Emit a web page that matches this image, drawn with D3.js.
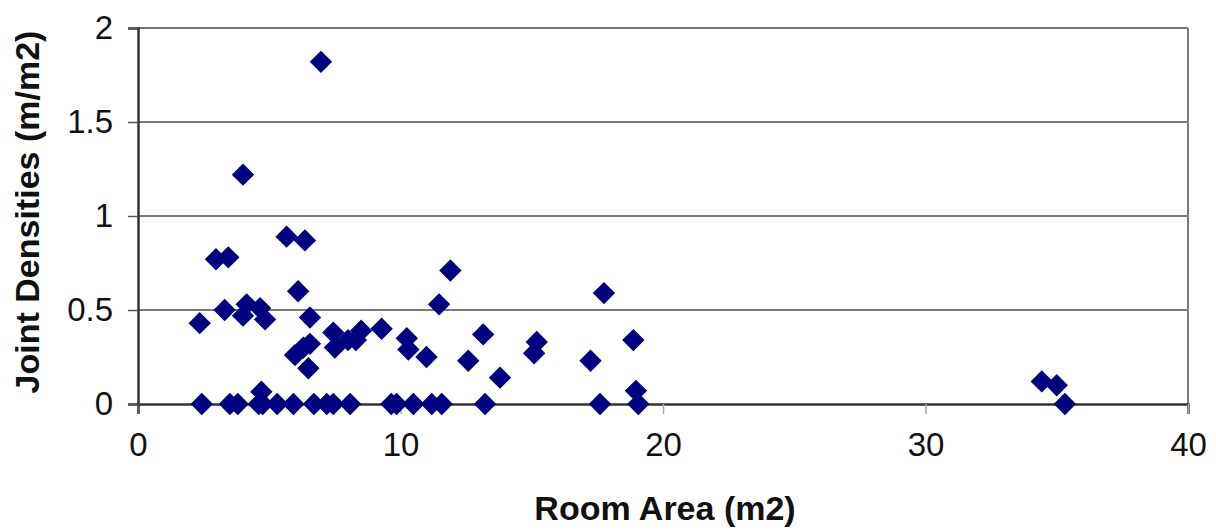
<!DOCTYPE html>
<html>
<head>
<meta charset="utf-8">
<script src="https://cdn.jsdelivr.net/npm/d3@7"></script>
<style>
  body { margin: 0; background: #fff; }
  text { font-family: "Liberation Sans", Arial, sans-serif; fill: #111; }
</style>
</head>
<body>
<svg id="chart" width="1216" height="531"></svg>
<script>
// Data
const roomArea = [
    6.97, 4.0, 5.66, 6.36, 2.97, 3.44, 11.9, 17.75, 6.1, 11.47,
    2.35, 3.3, 4.14, 4.0, 4.65, 4.84, 6.55, 5.98, 6.3, 6.55,
    6.49, 7.44, 7.5, 8.0, 8.3, 8.5, 9.28, 10.24, 10.3, 10.99,
    12.58, 13.15, 13.79, 15.19, 15.09, 17.24, 18.87, 18.97, 4.7, 34.43,
    35.0,
    2.43, 3.5, 3.8, 4.6, 4.75, 5.3, 5.92, 6.7, 7.19, 7.44,
    8.08, 9.65, 9.85, 10.49, 11.19, 11.57, 13.22, 17.6, 19.06, 35.31
];
const jointDensity = [
    1.82, 1.22, 0.89, 0.87, 0.77, 0.78, 0.71, 0.59, 0.60, 0.53,
    0.43, 0.50, 0.53, 0.47, 0.51, 0.45, 0.46, 0.26, 0.30, 0.32,
    0.19, 0.38, 0.30, 0.34, 0.34, 0.39, 0.40, 0.35, 0.29, 0.25,
    0.23, 0.37, 0.14, 0.33, 0.27, 0.23, 0.34, 0.07, 0.065, 0.12,
    0.10,
    0, 0, 0, 0, 0, 0, 0, 0, 0, 0,
    0, 0, 0, 0, 0, 0, 0, 0, 0, 0
];
const xTicks = [0, 10, 20, 30, 40];
const yTicks = [0, 0.5, 1, 1.5, 2];
const xTitle = "Room Area (m2)";
const yTitle = "Joint Densities (m/m2)";

const points = roomArea.map((x, i) => ({x: x, y: jointDensity[i]}));

// Plot box
const plotLeft = 138, plotRight = 1188, plotTop = 28, plotBottom = 404;

const svg = d3.select("#chart");

const x = d3.scaleLinear().domain([0, 40]).range([plotLeft, plotRight]);
const y = d3.scaleLinear().domain([0, 2]).range([plotBottom, plotTop]);

// gridlines
svg.append("g")
    .selectAll("line")
    .data(yTicks.filter(t => t > 0))
    .enter()
    .append("line")
    .attr("x1", plotLeft).attr("x2", plotRight)
    .attr("y1", d => y(d)).attr("y2", d => y(d))
    .attr("stroke", "#7a7a7a")
    .attr("stroke-width", 2);

// right border
svg.append("line")
    .attr("x1", plotRight).attr("x2", plotRight)
    .attr("y1", plotTop).attr("y2", plotBottom)
    .attr("stroke", "#7a7a7a")
    .attr("stroke-width", 2);

// y axis
const yAxis = svg.append("g")
    .attr("transform", `translate(${plotLeft},0)`)
    .call(d3.axisLeft(y).tickValues(yTicks).tickSize(10).tickPadding(15).tickFormat(d3.format("")));

// x axis
const xAxis = svg.append("g")
    .attr("transform", `translate(0,${plotBottom})`)
    .call(d3.axisBottom(x).tickValues(xTicks).tickSize(10).tickPadding(19));

[yAxis, xAxis].forEach(a => {
    a.select(".domain").attr("stroke", "#333").attr("stroke-width", 2.5);
    a.selectAll(".tick line").attr("stroke", "#555").attr("stroke-width", 1.5);
    a.selectAll(".tick text")
        .style("font-family", '"Liberation Sans", Arial, sans-serif')
        .style("font-size", "33px")
        .attr("fill", "#222");
});
xAxis.selectAll(".tick line").filter(d => d !== 0).attr("stroke", "#aaa");

// diamonds
const diamond = d3.symbol().type(d3.symbolSquare).size(250);
svg.append("g")
    .selectAll("path")
    .data(points)
    .enter()
    .append("path")
    .attr("d", diamond)
    .attr("transform", d => `translate(${x(d.x)},${y(d.y)}) rotate(45)`)
    .attr("fill", "#000080");

// titles
svg.append("text")
    .attr("x", 665)
    .attr("y", 520)
    .attr("text-anchor", "middle")
    .style("font-size", "34px")
    .style("font-weight", "bold")
    .text(xTitle);

svg.append("text")
    .attr("transform", `translate(39,212) rotate(-90)`)
    .attr("text-anchor", "middle")
    .style("font-size", "34px")
    .style("font-weight", "bold")
    .text(yTitle);
</script>
</body>
</html>
